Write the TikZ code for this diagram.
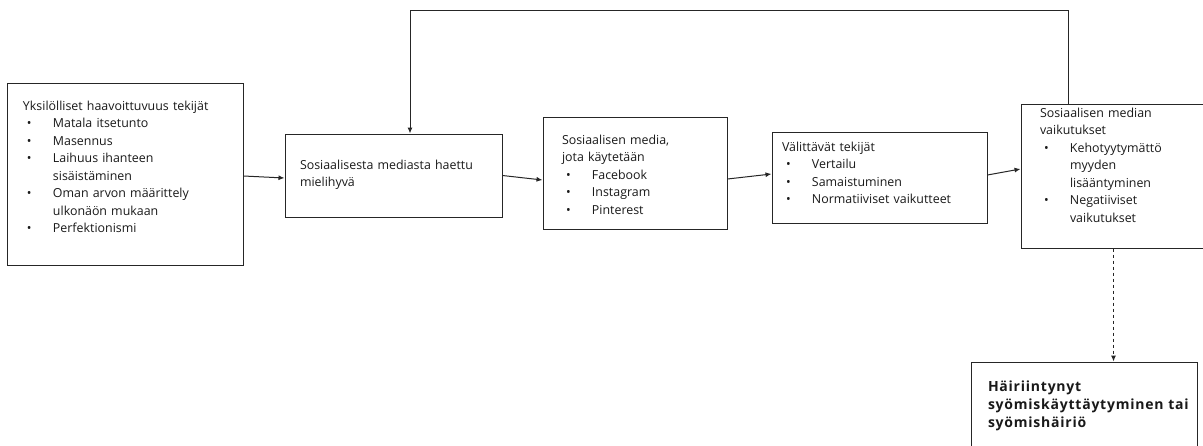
\documentclass[tikz,border=0pt]{standalone}
\usepackage{fontspec}
\setmainfont{Open Sans}
\usetikzlibrary{arrows.meta}

\newcommand{\bul}[1]{\mbox{\hspace*{4pt}\makebox[26pt][l]{\textbullet}#1}}
\newcommand{\cont}[1]{\mbox{\hspace*{30pt}#1}}

\begin{document}
\begin{tikzpicture}[color=black!85, line width=1pt, >={Latex[length=6pt,width=5pt]},
  box/.style={draw, rectangle, align=left, inner ysep=0pt, text=black!90,
    font=\fontsize{12.4}{17.5}\selectfont}]
  \useasboundingbox (0,0) rectangle (1203pt,-445pt);
  \clip (0,0) rectangle (1203pt,-445pt);

  \node (indiv) [box, text width=204pt, inner xsep=16pt, text height=27pt, text depth=155pt] at (125pt,-174pt)
    {\mbox{Yksilölliset haavoittuvuus tekijät}\\
     \bul{Matala itsetunto}\\
     \bul{Masennus}\\
     \bul{Laihuus ihanteen}\\
     \cont{sisäistäminen}\\
     \bul{Oman arvon määrittely}\\
     \cont{ulkonäön mukaan}\\
     \bul{Perfektionismi}};
  \node (pleasure) [box, text width=187pt, inner xsep=15pt, text height=35pt, text depth=48pt,
    node distance=268.5pt, right of=indiv, yshift=-1.5pt]
    {\mbox{Sosiaalisesta mediasta haettu}\\
     mielihyvä};
  \node (media) [box, text width=146pt, inner xsep=19pt, text height=27pt, text depth=85pt,
    node distance=241.5pt, right of=pleasure, yshift=2.5pt]
    {Sosiaalisen media,\\
     jota käytetään\\
     \bul{Facebook}\\
     \bul{Instagram}\\
     \bul{Pinterest}};
  \node (mediating) [box, text width=195pt, inner xsep=10pt, text height=19pt, text depth=72pt,
    node distance=244.5pt, right of=media, yshift=-4.5pt]
    {Välittävät tekijät\\
     \bul{Vertailu}\\
     \bul{Samaistuminen}\\
     \bul{Normatiiviset vaikutteet}};
  \node (effects) [box, text width=147pt, inner xsep=19pt, text height=13pt, text depth=131pt,
    node distance=234pt, right of=mediating, yshift=1.5pt]
    {Sosiaalisen median\\
     vaikutukset\\
     \bul{Kehotyytymättö}\\
     \cont{myyden}\\
     \cont{lisääntyminen}\\
     \bul{Negatiiviset}\\
     \cont{vaikutukset}};
  \node (disorder) [box, text width=192pt, inner xsep=17pt, text height=29pt, text depth=56pt,
    font=\fontsize{14}{18}\selectfont\bfseries\addfontfeature{LetterSpace=5.5},
    node distance=228.5pt, below of=effects, xshift=-29.5pt]
    {Häiriintynyt\\
     \mbox{syömiskäyttäytyminen tai}\\
     syömishäiriö};

  \draw [->] ([yshift=-2pt]indiv.east) -- ([yshift=-2.5pt]pleasure.west);
  \draw [->] (pleasure.east) -- ([yshift=-7pt]media.west);
  \draw [->] ([yshift=-6pt]media.east) -- ([yshift=3.5pt]mediating.west);
  \draw [->] ([yshift=2.5pt]mediating.east) -- ([yshift=7pt]effects.west);
  \draw [->] ([xshift=-45pt]effects.north) -- ++(0,93pt) -| ([xshift=16.5pt]pleasure.north);
  \draw [->, dashed] (effects.south) -- (effects.south |- disorder.north);
\end{tikzpicture}
\end{document}
